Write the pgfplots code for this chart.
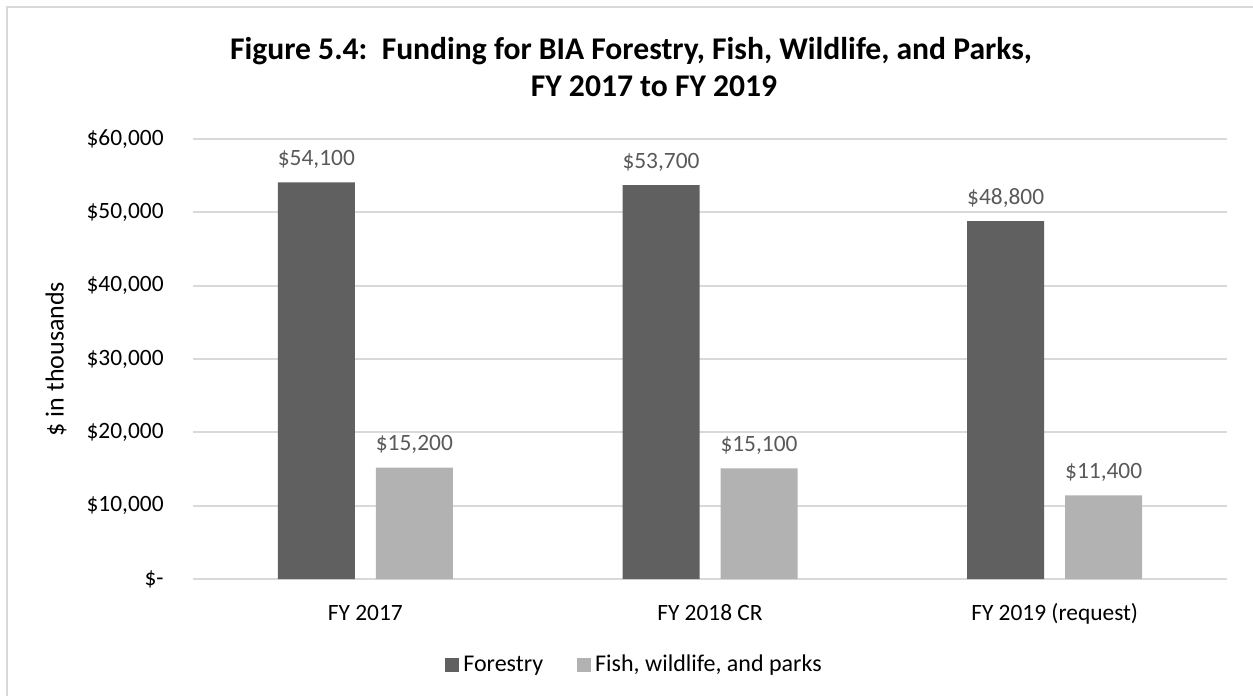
\documentclass[border=0pt]{standalone}
\usepackage{fontspec}
\setmainfont{Carlito}
\usepackage{pgfplots}
\pgfplotsset{compat=1.18}
\definecolor{forest}{HTML}{606060}
\definecolor{fishc}{HTML}{B2B2B2}
\definecolor{gridc}{HTML}{D9D9D9}
\definecolor{lblc}{HTML}{595959}

\begin{document}
\begin{tikzpicture}
% frame and page size (1 px of the reference = 0.5pt)
\useasboundingbox (-96.5pt,-58.5pt) rectangle (530pt,289.5pt);
\draw[gridc, line width=1pt] (-93pt,-60pt) -- (-93pt,286pt) -- (532pt,286pt);

\begin{axis}[
    at={(0,0)}, anchor=south west,
    width=517pt, height=220pt, scale only axis,
    ybar=10.5pt, bar width=38.5pt,
    xmin=-0.5, xmax=2.5, ymin=0, ymax=60000,
    enlargelimits=false,
    scaled y ticks=false,
    xtick={0,1,2},
    xticklabels={FY 2017, FY 2018 CR, FY 2019 (request)},
    ytick={0,10000,20000,30000,40000,50000,60000},
    yticklabels={{\$-\hspace{6pt}}, {\$10,000}, {\$20,000}, {\$30,000}, {\$40,000}, {\$50,000}, {\$60,000}},
    axis line style={draw=none},
    major tick length=0pt,
    ymajorgrids, grid style={gridc, line width=1pt},
    tick label style={font=\fontsize{11.7}{14}\selectfont, text=black},
    xticklabel style={anchor=base, inner sep=0pt, yshift=-20.5pt},
    yticklabel style={anchor=east, inner sep=0pt, xshift=-14.5pt},
    /pgf/number format/assume math mode=true,
    /pgf/number format/1000 sep={,},
    nodes near coords={\$\pgfmathprintnumber{\pgfplotspointmeta}},
    every node near coord/.append style={font=\fontsize{11.7}{14}\selectfont, text=lblc, anchor=base, inner sep=0pt, yshift=8.5pt},
    legend columns=2,
    legend style={at={(0.428,-0.195)}, anchor=center, draw=none, fill=none,
        font=\fontsize{12}{14}\selectfont,
        /tikz/every even column/.append style={column sep=15pt}},
    legend image code/.code={\path[#1] (0pt,-3.5pt) rectangle (7pt,3.5pt);},
]
\addplot[fill=forest, draw=none] coordinates {(0,54100) (1,53700) (2,48800)};
\addlegendentry{Forestry}
\addplot[fill=fishc, draw=none] coordinates {(0,15200) (1,15100) (2,11400)};
\addlegendentry{Fish, wildlife, and parks}
\end{axis}

% title and y label
\node[anchor=base, font=\fontsize{15.8}{19}\selectfont\bfseries] at (219pt,259.5pt) {Figure 5.4:\ \ Funding for BIA Forestry, Fish, Wildlife, and Parks,};
\node[anchor=base, font=\fontsize{15.8}{19}\selectfont\bfseries] at (230.5pt,241pt) {FY 2017 to FY 2019};
\node[rotate=90, font=\fontsize{13}{15}\selectfont] at (-68.5pt,110pt) {\$ in thousands};
\end{tikzpicture}
\end{document}
